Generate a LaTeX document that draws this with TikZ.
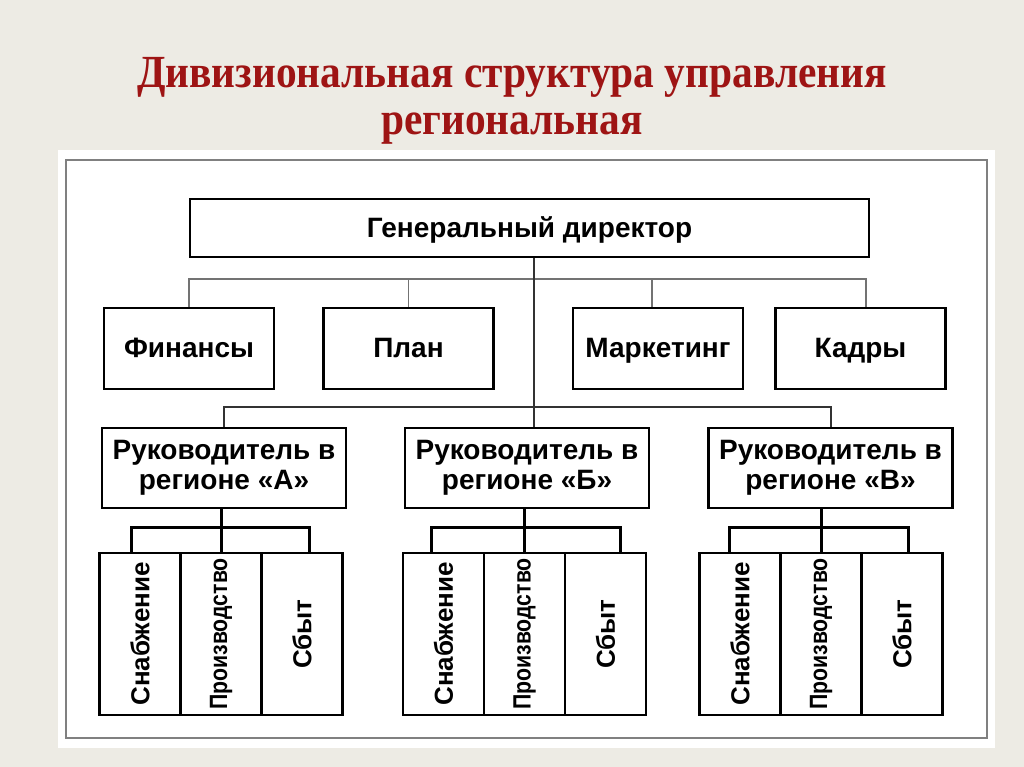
\documentclass[tikz,border=0pt]{standalone}
\usepackage{fontspec}
\usepackage{graphicx}
\setmainfont{Liberation Serif}
\setsansfont{Liberation Sans}
\newfontfamily\titlefont[FakeStretch=0.9]{Liberation Serif}
\newfontfamily\narrowsans[FakeStretch=0.85]{Liberation Sans}
\usepackage{tikz}
\usetikzlibrary{arrows,shapes}
\usetikzlibrary{positioning}
\definecolor{slide}{RGB}{237,235,228}
\definecolor{titlered}{RGB}{158,20,20}
\tikzstyle{post} = [draw, line width=2.5pt, fill=white, inner sep=0pt,
    font=\sffamily\bfseries\fontsize{28}{30}\selectfont]
\tikzstyle{dept} = [post, minimum width=170pt, minimum height=81pt,
    text height=18pt, text depth=0pt]
\tikzstyle{region} = [post, align=center, minimum width=244pt,
    minimum height=80pt]
\tikzstyle{unit} = [post, minimum width=81pt, minimum height=162pt,
    font=\sffamily\bfseries\fontsize{26}{28}\selectfont]
\tikzstyle{title} = [anchor=base, text=titlered,
    font=\titlefont\bfseries\fontsize{46}{50}\selectfont]
\tikzstyle{staffline} = [line width=1.5pt, black!55]
\tikzstyle{chain} = [line width=2pt, black!80]
\tikzstyle{unitline} = [line width=3pt, black]

\begin{document}
\begin{tikzpicture}[x=1pt, y=-1pt, node distance=81pt]
  % slide and frame
  \fill[slide] (0,0) rectangle (1024,767);
  \fill[white] (58,150) rectangle (995,748);
  \draw[gray, line width=2pt] (66,160) rectangle (987,738);
  % title
  \node[title] (t1) at (512,88) {Дивизиональная структура управления};
  \node[title] (t2) at (512,135) {региональная};
  % Place nodes
  \node [post, minimum width=679pt, minimum height=58pt, text height=18pt, text depth=0pt] (dir) at (529.5,228) {Генеральный директор};
  \node [dept] (fin) at (189,348.5) {Финансы};
  \node [dept, right of=fin, node distance=219.5pt] (plan) {План};
  \node [dept, right of=plan, node distance=249.5pt] (mark) {Маркетинг};
  \node [dept, right of=mark, node distance=202.5pt] (kadr) {Кадры};
  \node [region] (ra) at (224,468) {Руководитель в\\регионе «А»};
  \node [region, right of=ra, node distance=303pt] (rb) {Руководитель в\\регионе «Б»};
  \node [region, right of=rb, node distance=303.5pt] (rv) {Руководитель в\\регионе «В»};
  \node [unit] (pa) at (221,634) {\narrowsans\fontsize{25}{27}\selectfont\rotatebox{90}{Производство}};
  \node [unit, left of=pa] (sa) {\rotatebox{90}{Снабжение}};
  \node [unit, right of=pa] (ca) {\rotatebox{90}{Сбыт}};
  \node [unit, right of=pa, node distance=303.5pt] (pb) {\narrowsans\fontsize{25}{27}\selectfont\rotatebox{90}{Производство}};
  \node [unit, left of=pb] (sb) {\rotatebox{90}{Снабжение}};
  \node [unit, right of=pb] (cb) {\rotatebox{90}{Сбыт}};
  \node [unit, right of=pb, node distance=296.5pt] (pv) {\narrowsans\fontsize{25}{27}\selectfont\rotatebox{90}{Производство}};
  \node [unit, left of=pv] (sv) {\rotatebox{90}{Снабжение}};
  \node [unit, right of=pv] (cv) {\rotatebox{90}{Сбыт}};
  \coordinate (sbus) at (0,279);
  \coordinate (rbus) at (0,407);
  \coordinate (ubus) at (0,527);
  % staff services
  \draw [staffline] (fin.north) -- (fin.north |- sbus) -- ([xshift=5.5pt]kadr.north |- sbus) -- ([xshift=5.5pt]kadr.north);
  \draw [staffline] (plan.north) -- (plan.north |- sbus);
  \draw [staffline] ([xshift=-6pt]mark.north) -- ([xshift=-6pt]mark.north |- sbus);
  % regions
  \draw [chain] ([xshift=4.5pt]dir.south) -- ([xshift=4.5pt]dir.south |- rb.north);
  \draw [chain] (ra.north) -- (ra.north |- rbus) -- (rv.north |- rbus) -- (rv.north);
  % units
  \draw [unitline] (pa.north |- ra.south) -- (pa.north);
  \draw [unitline] ([xshift=-9pt]sa.north) -- ([xshift=-9pt]sa.north |- ubus) -- ([xshift=7pt]ca.north |- ubus) -- ([xshift=7pt]ca.north);
  \draw [unitline] (pb.north |- rb.south) -- (pb.north);
  \draw [unitline] ([xshift=-12pt]sb.north) -- ([xshift=-12pt]sb.north |- ubus) -- ([xshift=15pt]cb.north |- ubus) -- ([xshift=15pt]cb.north);
  \draw [unitline] (pv.north |- rv.south) -- (pv.north);
  \draw [unitline] ([xshift=-11pt]sv.north) -- ([xshift=-11pt]sv.north |- ubus) -- ([xshift=6pt]cv.north |- ubus) -- ([xshift=6pt]cv.north);
\end{tikzpicture}
\end{document}
